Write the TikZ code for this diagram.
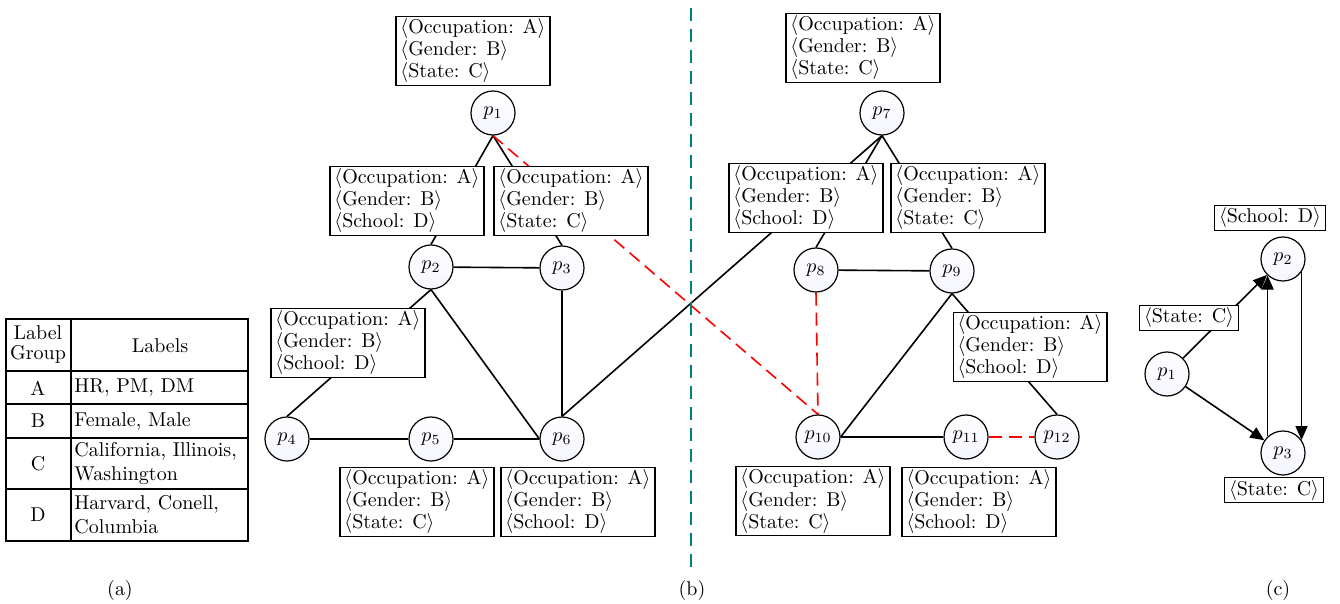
\documentclass[tikz,border=0pt]{standalone}
\usepackage{amsmath}
\usepackage{tikz}
\usetikzlibrary{positioning}
\usetikzlibrary{arrows.meta,backgrounds}

\tikzset{
	vertex/.style={circle, draw, semithick, minimum size=22pt, inner sep=0pt,
		top color=white, bottom color=blue!4},
	attrbox/.style={draw, semithick, fill=white, align=left,
		inner xsep=2.2pt, inner ysep=1.4pt, font=\fontsize{10}{11}\selectfont},
	plainedge/.style={thick},
	rededge/.style={thick, red, dash pattern=on 6.5pt off 3.5pt},
	diredge/.style={thick, -{Triangle[length=7pt,width=6pt]}},
	tblline/.style={semithick},
}

\newcommand{\occ}{$\langle$Occupation: A$\rangle$}
\newcommand{\gen}{$\langle$Gender: B$\rangle$}
\newcommand{\sta}{$\langle$State: C$\rangle$}
\newcommand{\sch}{$\langle$School: D$\rangle$}

\begin{document}
\begin{tikzpicture}[x=0.5pt, y=-0.5pt]
	
	\useasboundingbox (0,0) rectangle (1340,604);
	
	% (a): the label table, drawn line by line
	\draw[tblline] (6,319) rectangle (248,541);
	\draw[tblline] (71,319) -- (71,541);
	\foreach \y in {371,404,438,489}
		\draw[tblline] (6,\y) -- (248,\y);
	
	\node[align=center] (GroupHead) at (38,345) {Label\\[-2pt]Group};
	\node (LabelsHead) at (160,346) {Labels};
	\node (GA) at (38,388) {A};
	\node (GB) at (38,421) {B};
	\node (GC) at (38,464) {C};
	\node (GD) at (38,515) {D};
	\node[anchor=west, inner sep=1pt] (LA) at (72,388) {HR, PM, DM};
	\node[anchor=west, inner sep=1pt] (LB) at (72,421) {Female, Male};
	\node[anchor=west, inner sep=1pt, align=left] (LC) at (72,464) {California, Illinois,\\Washington};
	\node[anchor=west, inner sep=1pt, align=left] (LD) at (72,515) {Harvard, Conell,\\Columbia};
	
	% (b): the two groups, left and right of the cut
	\node[vertex] (P1)  at (493,113) {$p_{1}$};
	\node[vertex] (P2)  at (431,267) {$p_{2}$};
	\node[vertex] (P3)  at (562,268) {$p_{3}$};
	\node[vertex] (P4)  at (287,439) {$p_{4}$};
	\node[vertex] (P5)  at (431,439) {$p_{5}$};
	\node[vertex] (P6)  at (562,439) {$p_{6}$};
	\node[vertex] (P7)  at (882,113) {$p_{7}$};
	\node[vertex] (P8)  at (816,270) {$p_{8}$};
	\node[vertex] (P9)  at (952,271) {$p_{9}$};
	\node[vertex] (P10) at (818,437) {$p_{10}$};
	\node[vertex] (P11) at (966,437) {$p_{11}$};
	\node[vertex] (P12) at (1057,437) {$p_{12}$};
	
	% attribute boxes
	\node[attrbox] (P1Label)  at (473,51)  {\occ\\\gen\\\sta};
	\node[attrbox] (P2Label)  at (407,201) {\occ\\\gen\\\sch};
	\node[attrbox] (P3Label)  at (571,201) {\occ\\\gen\\\sta};
	\node[attrbox] (P4Label)  at (348,343) {\occ\\\gen\\\sch};
	\node[attrbox] (P5Label)  at (417,502) {\occ\\\gen\\\sta};
	\node[attrbox] (P6Label)  at (578,502) {\occ\\\gen\\\sch};
	\node[attrbox] (P7Label)  at (863,48)  {\occ\\\gen\\\sta};
	\node[attrbox] (P8Label)  at (806,198) {\occ\\\gen\\\sch};
	\node[attrbox] (P9Label)  at (968,198) {\occ\\\gen\\\sta};
	\node[attrbox] (P12Label) at (1030,347) {\occ\\\gen\\\sch};
	\node[attrbox] (P10Label) at (813,501) {\occ\\\gen\\\sta};
	\node[attrbox] (P11Label) at (979,502) {\occ\\\gen\\\sch};
	
	% edges go under the boxes
	\begin{pgfonlayer}{background}
		\draw[plainedge] (P1.south) -- (P2.north);
		\draw[plainedge] (P1.south) -- (P3.north);
		\draw[plainedge] (P2) -- (P3);
		\draw[plainedge] (P2.south) -- (P4.north);
		\draw[plainedge] (P2.south) -- (P6.west);
		\draw[plainedge] (P3.south) -- (P6.north);
		\draw[plainedge] (P4) -- (P5);
		\draw[plainedge] (P5) -- (P6);
		\draw[plainedge] (P6.north) -- (P7.south);
		\draw[plainedge] (P7.south) -- (P8.north);
		\draw[plainedge] (P7.south) -- (P9.north);
		\draw[plainedge] (P8) -- (P9);
		\draw[plainedge] (P9.south) -- (P10.east);
		\draw[plainedge] (P9.south) -- (P12.north);
		\draw[plainedge] (P10.east) -- (P11.west);
		
		\draw[rededge] (P1.south) -- (P10.north);
		\draw[rededge] (P8.south) -- (P10.north);
		\draw[rededge] (P11.east) -- (P12.west);
	\end{pgfonlayer}
	
	% the cut
	\coordinate (CutTop) at (691,8);
	\coordinate (CutBot) at (691,572);
	\draw[thick, teal, dash pattern=on 6.5pt off 4pt] (CutTop) -- (CutBot);
	
	% (c): the directed version
	\node[vertex] (Q1) at (1167,374) {$p_{1}$};
	\node[vertex] (Q2) at (1283,259) {$p_{2}$};
	\node[vertex] (Q3) at (1283,453) {$p_{3}$};
	
	\draw[diredge] (Q1) -- (Q2);
	\draw[diredge] (Q1) -- (Q3);
	\draw[diredge] (Q3.133) -- (Q2.227);
	\draw[diredge] (Q2.-35) -- (Q3.35);
	
	\node[attrbox] (Q2Label)  at (1270,218) {\sch};
	\node[attrbox] (Q12Label) at (1189,318) {\sta};
	\node[attrbox] (Q3Label)  at (1274,490) {\sta};
	
	% captions
	\node (CapA) at (120,591) {(a)};
	\node (CapB) at (692,591) {(b)};
	\node (CapC) at (1278,591) {(c)};
	
\end{tikzpicture}
\end{document}
